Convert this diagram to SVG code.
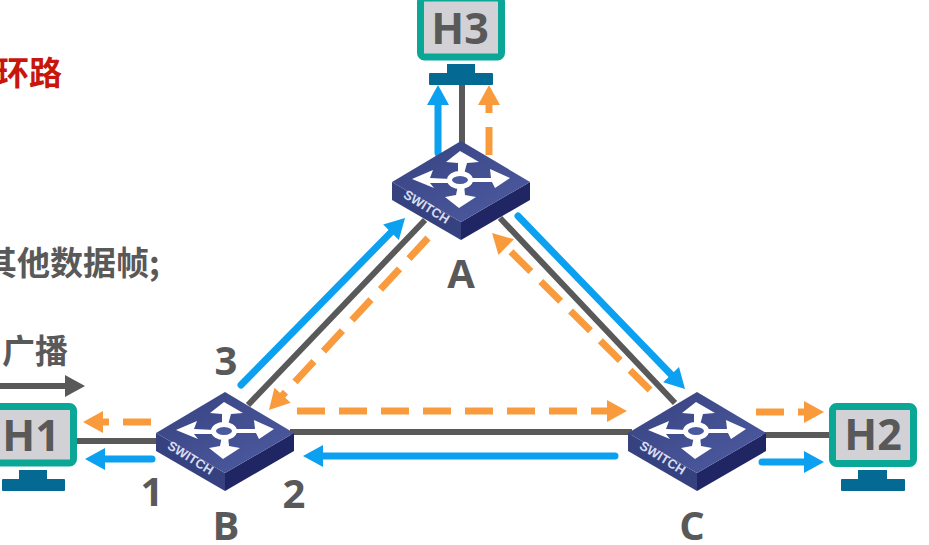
<svg xmlns="http://www.w3.org/2000/svg" xmlns:xlink="http://www.w3.org/1999/xlink" width="929" height="545" viewBox="0 0 929 545">
<style>
.lbl{font-family:"Open Sans","Liberation Sans",sans-serif;font-weight:700;font-size:40px;fill:#595959;text-anchor:middle}
.host{font-size:43px}
.cjk{font-family:"Noto Sans CJK SC","Noto Sans",sans-serif;font-weight:700;font-size:33px;fill:#595959}
.wire{stroke:#595959;stroke-width:6;fill:none}
.blue{stroke:#0ca0f0;stroke-width:7;fill:none;stroke-linecap:round;marker-end:url(#hb)}
.orange{stroke:#f99b3d;stroke-width:7;fill:none;stroke-dasharray:28 14;marker-end:url(#ho)}
.screen{fill:#d2d2d6;stroke:#0aa696;stroke-width:7}
.base{fill:#056a93}
.swt{font-family:"Liberation Sans",sans-serif;font-weight:700;font-size:13px;fill:#d8dcf0}
</style>
<defs>
<marker id="hb" markerUnits="userSpaceOnUse" markerWidth="22" markerHeight="24" refX="2" refY="12" orient="auto" overflow="visible"><path d="M0,1L20,12L0,23Z" fill="#0ca0f0"/></marker>
<marker id="ho" markerUnits="userSpaceOnUse" markerWidth="22" markerHeight="24" refX="2" refY="12" orient="auto" overflow="visible"><path d="M0,1L20,12L0,23Z" fill="#f99b3d"/></marker>
<marker id="hg" markerUnits="userSpaceOnUse" markerWidth="22" markerHeight="24" refX="2" refY="12" orient="auto" overflow="visible"><path d="M0,1L20,12L0,23Z" fill="#595959"/></marker>
<linearGradient id="top" x1="0" y1="0" x2="1" y2="1"><stop offset="0" stop-color="#36427f"/><stop offset="1" stop-color="#4f5ca3"/></linearGradient>
<g id="switch">
<polygon points="-69,0 0,40 0,58 -69,18" fill="#36427f"/>
<polygon points="69,0 0,40 0,58 69,18" fill="#1f2663"/>
<polygon points="0,-41 69,0 0,40 -69,0" fill="url(#top)"/>
<g fill="#fff" stroke="none">
<polygon points="-1,-31 18,-20 6,-19 3,-8 -3,-8 -3,-19 -15,-20"/>
<polygon points="-2,26 -16,15 -5,13 -3,3 3,3 4,13 15,15"/>
<polygon points="-49,-3 -28,-12 -31,-4 -10,-3 -10,1 -31,1 -27,6"/>
<polygon points="49,-4 29,-13 30,-4 8,-4 8,0 31,0 34,6"/>
</g>
<ellipse cx="-1" cy="-2" rx="10.500" ry="6.500" fill="#4a5aa0" stroke="#fff" stroke-width="5"/>
<text class="swt" transform="translate(-58.500,15) rotate(32)">SWITCH</text>
</g>
</defs>
<rect width="929" height="545" fill="#fff"/>
<g id="connectors">
<path class="wire" d="M462,85V145"/>
<path class="wire" d="M77,441H160"/>
<path class="wire" d="M290,432H632"/>
<path class="wire" d="M762,435H830"/>
<path class="wire" d="M248,405L425,220"/>
<path class="wire" d="M500,218L675,403"/>
<path class="blue" d="M438,153V103"/>
<path class="orange" d="M489,155V103"/>
<path class="blue" d="M241,385L392.4,230.9"/>
<path class="orange" d="M428,238L281.2,396.8"/>
<path class="blue" d="M518,216L672.5,376"/>
<path class="orange" d="M650,390L504.8,245.7"/>
<path class="orange" d="M297,411H609"/>
<path class="blue" d="M615,456H321"/>
<path class="orange" d="M151,422H101"/>
<path class="blue" d="M152,459H103"/>
<path class="orange" d="M756,412H806"/>
<path class="blue" d="M762,462H806"/>
<path d="M0,386H67" stroke="#595959" stroke-width="6" fill="none" marker-end="url(#hg)"/>
</g>
<g id="node-h3">
<rect class="screen" x="420.500" y="-2" width="81" height="59" rx="4"/>
<rect class="base" x="447" y="64" width="28" height="10"/><rect class="base" x="429" y="73" width="64" height="12" rx="1"/>
<text class="lbl host" x="460" y="44">H3</text>
</g>
<g id="node-h1">
<rect class="screen" x="-8" y="406.500" width="81.500" height="56.500" rx="4"/>
<rect class="base" x="19" y="470" width="28" height="10"/><rect class="base" x="2" y="479" width="63" height="12" rx="1"/>
<text class="lbl host" x="31" y="451">H1</text>
</g>
<g id="node-h2">
<rect class="screen" x="832.500" y="406.500" width="81" height="57" rx="4"/>
<rect class="base" x="858" y="470" width="29" height="10"/><rect class="base" x="841" y="479" width="64" height="12" rx="1"/>
<text class="lbl host" x="873" y="450">H2</text>
</g>
<g id="node-a"><use href="#switch" x="461" y="182"/><text class="lbl" x="461" y="288">A</text></g>
<g id="node-b"><use href="#switch" x="225" y="433"/><text class="lbl" x="226" y="540">B</text></g>
<g id="node-c"><use href="#switch" x="697" y="433"/><text class="lbl" x="692" y="540">C</text></g>
<g id="labels">
<text class="lbl" x="152" y="506">1</text>
<text class="lbl" x="294" y="508">2</text>
<text class="lbl" x="226" y="375">3</text>
<text class="cjk" x="-4" y="85" style="fill:#c8160c">环路</text>
<text class="cjk" x="-16" y="275">其他数据帧;</text>
<text class="cjk" x="2" y="363">广播</text>
</g>
</svg>
